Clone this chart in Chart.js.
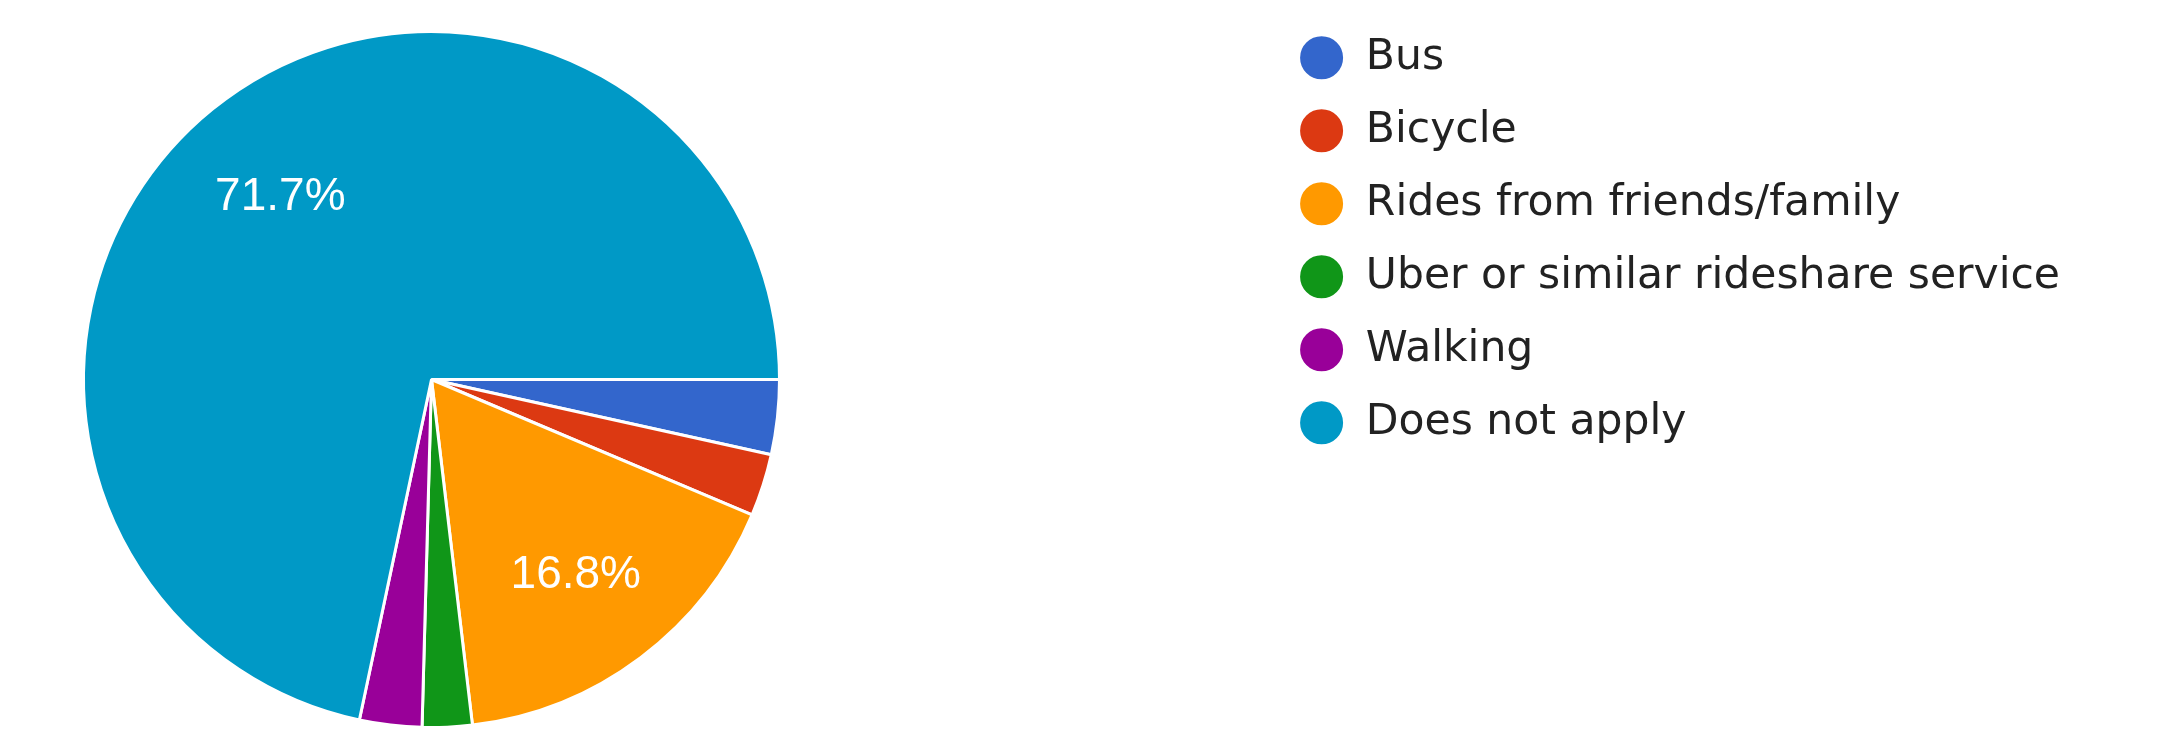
<!DOCTYPE html>
<html lang="en">
<head>
    <meta charset="UTF-8">
    <title>Transportation</title>
    <script src="https://cdn.jsdelivr.net/npm/chart.js"></script>
    <style>
        body {
            margin: 0;
            background: #fff;
        }
        .container {
            width: 2167px;
            height: 729px;
        }
    </style>
</head>
<body>
    <div class="container">
        <canvas id="pieChart"></canvas>
    </div>

    <script>
        // Survey answers (counts, n = 173)
        const labels = ['Bus', 'Bicycle', 'Rides from friends/family', 'Uber or similar rideshare service', 'Walking', 'Does not apply'];
        const counts = [6, 5, 29, 4, 5, 124];
        const colors = ['#3366cc', '#dc3912', '#ff9900', '#109618', '#990099', '#0099c6'];

        // Keep the pie in the left part of the canvas, legend far to the right
        const pieArea = {
            id: 'pieArea',
            afterLayout(chart) {
                const a = chart.chartArea;
                a.left = 82;
                a.right = 781;
                a.top = 30;
                a.bottom = 729;
                a.width = a.right - a.left;
                a.height = a.bottom - a.top;
            }
        };

        // Percent labels inside the big slices
        const sliceLabels = {
            id: 'sliceLabels',
            afterDatasetsDraw(chart) {
                const ctx = chart.ctx;
                const total = counts.reduce((s, v) => s + v, 0);
                const arcs = chart.getDatasetMeta(0).data;
                ctx.save();
                ctx.fillStyle = '#ffffff';
                ctx.font = '46px "Liberation Sans", Arial, sans-serif';
                ctx.textAlign = 'center';
                ctx.textBaseline = 'middle';
                arcs.forEach((arc, i) => {
                    const pct = counts[i] / total * 100;
                    if (pct < 5) return;
                    const mid = (arc.startAngle + arc.endAngle) / 2;
                    const r = arc.outerRadius * 0.69;
                    ctx.fillText(pct.toFixed(1) + '%', arc.x + Math.cos(mid) * r, arc.y + Math.sin(mid) * r + 4);
                });
                ctx.restore();
            }
        };

        const ctx = document.getElementById('pieChart').getContext('2d');
        new Chart(ctx, {
            type: 'pie',
            data: {
                labels: labels,
                datasets: [{
                    data: counts,
                    backgroundColor: colors,
                    borderColor: '#ffffff',
                    borderWidth: 3,
                    clip: false
                }]
            },
            options: {
                responsive: true,
                maintainAspectRatio: false,
                animation: false,
                rotation: 90,
                layout: {
                    padding: { top: 6, right: 97, bottom: 0, left: 0 }
                },
                plugins: {
                    tooltip: { enabled: false },
                    legend: {
                        display: true,
                        position: 'right',
                        align: 'start',
                        labels: {
                            usePointStyle: true,
                            pointStyle: 'circle',
                            pointStyleWidth: 46,
                            boxHeight: 32.5,
                            padding: 30.5,
                            color: '#222222',
                            font: {
                                family: '"DejaVu Sans", sans-serif',
                                size: 42.5
                            }
                        }
                    }
                }
            },
            plugins: [pieArea, sliceLabels]
        });
    </script>
</body>
</html>
